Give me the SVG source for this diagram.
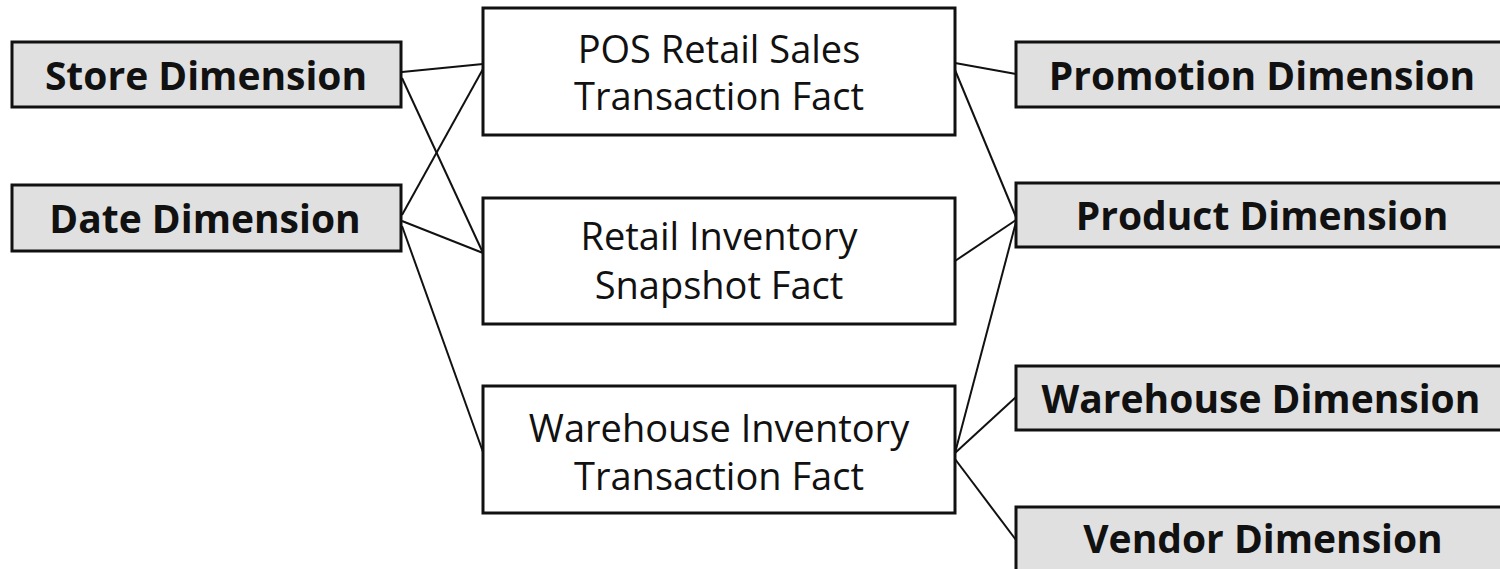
<svg xmlns="http://www.w3.org/2000/svg" width="1500" height="569" viewBox="0 0 1500 569">
  <style>
    .dim rect { fill: #e0e0e0; stroke: #111; stroke-width: 3; }
    .fact rect { fill: #fff; stroke: #111; stroke-width: 3; }
    .dim text { font-family: "Open Sans", "Liberation Sans", sans-serif; font-weight: bold; font-size: 39px; fill: #111; text-anchor: middle; }
    .fact text { font-family: "Open Sans", "Liberation Sans", sans-serif; font-size: 38px; fill: #111; text-anchor: middle; }
    #connectors line { stroke: #111; stroke-width: 2; }
  </style>
  <rect width="1500" height="569" fill="#fff"/>

  <!-- connectors between dimensions and facts -->
  <g id="connectors">
    <line x1="402" y1="72" x2="483" y2="64"/>
    <line x1="402" y1="78" x2="483" y2="253"/>
    <line x1="402" y1="215" x2="483" y2="69"/>
    <line x1="402" y1="221" x2="483" y2="253"/>
    <line x1="402" y1="226" x2="483" y2="452"/>
    <line x1="955" y1="63" x2="1016" y2="74"/>
    <line x1="955" y1="70" x2="1016" y2="217"/>
    <line x1="955" y1="261" x2="1016" y2="220"/>
    <line x1="955" y1="453" x2="1016" y2="222"/>
    <line x1="955" y1="453" x2="1016" y2="397"/>
    <line x1="955" y1="459" x2="1016" y2="540"/>
  </g>

  <!-- dimension tables, left column -->
  <g id="store-dimension" class="dim">
    <rect x="12" y="42" width="389" height="65"/>
    <text x="206" y="90">Store Dimension</text>
  </g>
  <g id="date-dimension" class="dim">
    <rect x="12" y="185" width="389" height="66"/>
    <text x="205" y="233">Date Dimension</text>
  </g>

  <!-- fact tables, middle column -->
  <g id="pos-retail-sales-fact" class="fact">
    <rect x="483" y="8" width="472" height="127"/>
    <text x="719" y="63">POS Retail Sales</text>
    <text x="719" y="110">Transaction Fact</text>
  </g>
  <g id="retail-inventory-fact" class="fact">
    <rect x="483" y="198" width="472" height="126"/>
    <text x="719" y="250">Retail Inventory</text>
    <text x="719" y="299">Snapshot Fact</text>
  </g>
  <g id="warehouse-inventory-fact" class="fact">
    <rect x="483" y="386" width="472" height="127"/>
    <text x="719" y="442">Warehouse Inventory</text>
    <text x="719" y="490">Transaction Fact</text>
  </g>

  <!-- dimension tables, right column -->
  <g id="promotion-dimension" class="dim">
    <rect x="1016" y="42" width="494" height="65"/>
    <text x="1262" y="90">Promotion Dimension</text>
  </g>
  <g id="product-dimension" class="dim">
    <rect x="1016" y="183" width="494" height="64"/>
    <text x="1262" y="230">Product Dimension</text>
  </g>
  <g id="warehouse-dimension" class="dim">
    <rect x="1016" y="366" width="494" height="64"/>
    <text x="1261" y="413">Warehouse Dimension</text>
  </g>
  <g id="vendor-dimension" class="dim">
    <rect x="1016" y="507" width="494" height="80"/>
    <text x="1263" y="553">Vendor Dimension</text>
  </g>
</svg>
